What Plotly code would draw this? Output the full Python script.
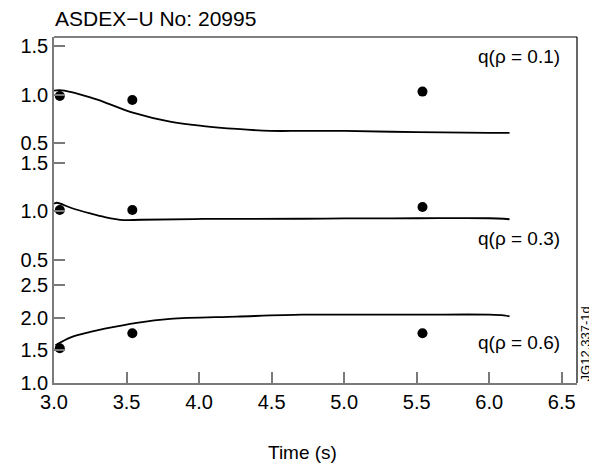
import plotly.graph_objects as go

# ---- data ----
line_t1 = [3.0, 3.04, 3.12, 3.25, 3.35, 3.55, 3.8, 4.03, 4.26, 4.49, 4.71, 5.0, 5.5, 6.0, 6.14]
line_q1 = [1.04, 1.045, 1.025, 0.97, 0.92, 0.81, 0.72, 0.675, 0.645, 0.625, 0.625, 0.625, 0.612, 0.605, 0.605]
pts_t = [3.04, 3.54, 5.54]
pts_q1 = [0.985, 0.943, 1.03]

line_t2 = [3.0, 3.02, 3.12, 3.25, 3.35, 3.48, 3.6, 4.03, 4.71, 5.0, 5.5, 6.0, 6.1, 6.14]
line_q2 = [1.08, 1.09, 1.036, 0.98, 0.943, 0.912, 0.915, 0.923, 0.925, 0.928, 0.93, 0.93, 0.925, 0.92]
pts_q2 = [1.015, 1.015, 1.046]

line_t3 = [3.01, 3.12, 3.25, 3.35, 3.57, 3.8, 4.26, 4.71, 5.0, 5.5, 6.0, 6.1, 6.14]
line_q3 = [1.576, 1.70, 1.78, 1.83, 1.92, 1.98, 2.015, 2.045, 2.045, 2.045, 2.045, 2.035, 2.02]
pts_q3 = [1.53, 1.76, 1.76]

x_ticks = [3.0, 3.5, 4.0, 4.5, 5.0, 5.5, 6.0, 6.5]
y1_ticks = [0.5, 1.0, 1.5]
y2_ticks = [0.5, 1.0, 1.5]
y3_ticks = [1.0, 1.5, 2.0, 2.5]
labels = ["q(ρ = 0.1)", "q(ρ = 0.3)", "q(ρ = 0.6)"]

FONT = "Liberation Sans, Arial, Helvetica, sans-serif"
GRAY = "#7a7a7a"

fig = go.Figure()
for lt, lq, pq, ya in [(line_t1, line_q1, pts_q1, "y3"),
                       (line_t2, line_q2, pts_q2, "y2"),
                       (line_t3, line_q3, pts_q3, "y")]:
    fig.add_trace(go.Scatter(x=lt, y=lq, mode="lines", line=dict(color="black", width=1.8, shape="spline"),
                             yaxis=ya, showlegend=False, hoverinfo="skip"))
    fig.add_trace(go.Scatter(x=pts_t, y=pq, mode="markers", marker=dict(color="black", size=10),
                             yaxis=ya, showlegend=False))

yax_common = dict(showgrid=False, zeroline=False, showline=True, linecolor=GRAY, linewidth=1.5,
                  ticks="inside", ticklen=11, tickcolor=GRAY, tickwidth=1.5, tickformat=".1f",
                  tickfont=dict(family=FONT, size=20, color="black"), anchor="x")

# page body has an 8px margin: figure is 8px smaller and offset accordingly
fig.update_layout(
    width=589, height=459,
    margin=dict(l=41, r=20, t=29, b=84),
    paper_bgcolor="white", plot_bgcolor="white",
    font=dict(family=FONT, color="black"),
    xaxis=dict(range=[3.0, 6.605], tickvals=x_ticks, tickformat=".1f", showgrid=False, zeroline=False,
               showline=True, linecolor=GRAY, linewidth=1.5, ticks="inside", ticklen=11,
               tickcolor=GRAY, tickwidth=1.5, tickfont=dict(family=FONT, size=20, color="black")),
    yaxis=dict(domain=[0, 0.3208], range=[1.0, 2.697], tickvals=y3_ticks, **yax_common),
    yaxis2=dict(domain=[0.3208, 0.6647], range=[0.376, 1.603], tickvals=y2_ticks, **yax_common),
    yaxis3=dict(domain=[0.6647, 1.0], range=[0.397, 1.593], tickvals=y1_ticks, **yax_common),
)

# frame top and right
fig.add_shape(type="line", xref="paper", yref="paper", x0=0, x1=1, y0=1, y1=1,
              line=dict(color="black", width=1.2))
fig.add_shape(type="line", xref="paper", yref="paper", x0=1, x1=1, y0=0, y1=1,
              line=dict(color="black", width=1.2))

# labels
for txt, yp in zip(labels, [1 - (57 - 37) / 346, 1 - (238 - 37) / 346, 1 - (342 - 37) / 346]):
    fig.add_annotation(text=txt, xref="paper", yref="paper", x=(562 - 49) / 528, y=yp,
                       xanchor="right", yanchor="middle", showarrow=False,
                       font=dict(family=FONT, size=19, color="black"))

fig.add_annotation(text="ASDEX−U No: 20995", xref="paper", yref="paper", x=-1 / 528, y=1 + (37 - 19) / 346,
                   xanchor="left", yanchor="middle", showarrow=False,
                   font=dict(family=FONT, size=21, color="black"))
fig.add_annotation(text="Time (s)", xref="paper", yref="paper", x=(300 - 49) / 528, y=-(452 - 383) / 346,
                   xanchor="center", yanchor="middle", showarrow=False,
                   font=dict(family=FONT, size=19, color="black"))
fig.add_annotation(text="JG12.337-1d", xref="paper", yref="paper", x=(586 - 49) / 528, y=0,
                   xanchor="center", yanchor="bottom", textangle=-90, showarrow=False,
                   font=dict(family=FONT, size=13, color="black"))

fig.write_html("out.html")
